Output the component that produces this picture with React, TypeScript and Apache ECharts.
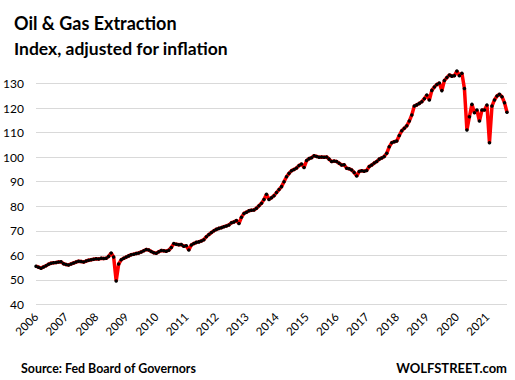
import React, { useEffect, useRef } from "react";
import * as echarts from "echarts";

const years = [2006, 2007, 2008, 2009, 2010, 2011, 2012, 2013, 2014, 2015, 2016, 2017, 2018, 2019, 2020, 2021];
const yTicks = [40, 50, 60, 70, 80, 90, 100, 110, 120, 130];

const v2006 = [55.6, 55.2, 54.8, 55.3, 55.8, 56.4, 56.8, 57.0, 57.1, 57.3, 57.4, 56.6];
const v2007 = [56.3, 56.1, 56.5, 56.9, 57.3, 57.6, 57.5, 57.3, 57.7, 58.0, 58.2, 58.4];
const v2008 = [58.6, 58.5, 58.8, 58.7, 58.8, 59.6, 61.0, 59.3, 49.6, 56.5, 58.2, 58.8];
const v2009 = [59.3, 59.8, 60.3, 60.5, 60.8, 61.0, 61.4, 61.9, 62.4, 62.2, 61.6, 61.1];
const v2010 = [60.9, 61.5, 62.0, 61.9, 61.7, 62.1, 63.2, 64.8, 64.5, 64.3, 64.4, 63.7];
const v2011 = [63.9, 62.2, 64.2, 64.8, 65.3, 65.5, 65.9, 66.4, 67.6, 68.5, 69.3, 70.0];
const v2012 = [70.6, 71.0, 71.3, 71.7, 72.0, 72.4, 73.3, 73.6, 74.2, 73.0, 75.5, 77.1];
const v2013 = [77.6, 78.2, 78.4, 78.5, 79.2, 80.2, 81.2, 82.8, 84.9, 82.8, 83.5, 84.3];
const v2014 = [85.6, 86.8, 88.0, 90.0, 92.0, 93.4, 94.5, 95.0, 95.6, 96.6, 97.2, 95.8];
const v2015 = [98.6, 99.4, 99.8, 100.6, 100.3, 100.0, 100.1, 100.0, 100.1, 99.2, 98.2, 98.4];
const v2016 = [98.2, 97.5, 96.8, 96.9, 95.5, 95.3, 94.8, 93.8, 92.3, 94.2, 94.5, 94.3];
const v2017 = [94.6, 96.2, 96.8, 97.6, 98.2, 99.2, 99.7, 100.3, 101.6, 104.2, 105.9, 106.3];
const v2018 = [106.6, 108.8, 110.8, 111.8, 112.8, 114.7, 117.2, 120.8, 121.3, 121.9, 122.6, 123.8];
const v2019 = [125.3, 123.3, 127.2, 128.6, 129.6, 130.2, 127.1, 131.2, 132.4, 133.5, 133.0, 133.2];
const v2020 = [135.1, 133.2, 134.2, 128.0, 111.1, 116.5, 121.5, 118.1, 119.2, 114.7, 119.2, 119.2];
const v2021 = [121.2, 105.9, 120.8, 123.3, 124.9, 125.6, 124.6, 122.2, 118.3];

const yearValues = [v2006, v2007, v2008, v2009, v2010, v2011, v2012, v2013, v2014, v2015, v2016, v2017, v2018, v2019, v2020, v2021];

const values: number[] = [];
const categories: string[] = [];
yearValues.forEach((arr, yi) => {
  arr.forEach((v, m) => {
    values.push(v);
    categories.push(`${years[yi]}-${String(m + 1).padStart(2, "0")}`);
  });
});

const FONT = "Lato";

export default function App() {
  const ref = useRef<HTMLDivElement>(null);
  useEffect(() => {
    if (!ref.current) return;
    const chart = echarts.init(ref.current, null, { renderer: "svg" });
    chart.setOption({
      animation: false,
      backgroundColor: "#ffffff",
      grid: { left: 36, right: 8, top: 83.5, bottom: 75.5, containLabel: false },
      xAxis: {
        type: "category",
        data: categories,
        boundaryGap: false,
        axisLine: { show: false },
        axisTick: { show: false },
        splitLine: { show: false },
        axisLabel: {
          interval: (i: number) => i % 12 === 0,
          rotate: 45,
          margin: 10,
          color: "#000",
          fontFamily: FONT,
          fontSize: 11.5,
          formatter: (v: string) => v.slice(0, 4),
        },
      },
      yAxis: {
        type: "value",
        min: yTicks[0],
        max: yTicks[yTicks.length - 1],
        interval: 10,
        axisLine: { show: false },
        axisTick: { show: false },
        splitLine: { lineStyle: { color: "#d9d9d9", width: 1 } },
        axisLabel: { color: "#000", fontFamily: FONT, fontSize: 12, margin: 12 },
      },
      series: [
        {
          type: "line",
          data: values,
          clip: false,
          showAllSymbol: true,
          symbol: "circle",
          symbolSize: 3.5,
          lineStyle: { color: "#ff0000", width: 3.5 },
          itemStyle: { color: "#000000" },
        },
      ],
      graphic: [
        {
          type: "text",
          left: 14,
          top: 14,
          style: { text: "Oil & Gas Extraction", font: `bold 18px ${FONT}`, fill: "#000" },
        },
        {
          type: "text",
          left: 14,
          top: 39,
          style: { text: "Index, adjusted for inflation", font: `bold 17.5px ${FONT}`, fill: "#000" },
        },
        {
          type: "text",
          left: 21,
          top: 362,
          style: { text: "Source: Fed Board of Governors", font: `bold 12.4px ${FONT}`, fill: "#000" },
        },
        {
          type: "text",
          right: 8,
          top: 361,
          style: { text: "WOLFSTREET.com", font: `bold 13px ${FONT}`, fill: "#000" },
        },
      ],
    });
    return () => chart.dispose();
  }, []);
  return (
    <div
      ref={ref}
      style={{ position: "absolute", left: 0, top: 0, width: 515, height: 380, background: "#fff" }}
    />
  );
}
